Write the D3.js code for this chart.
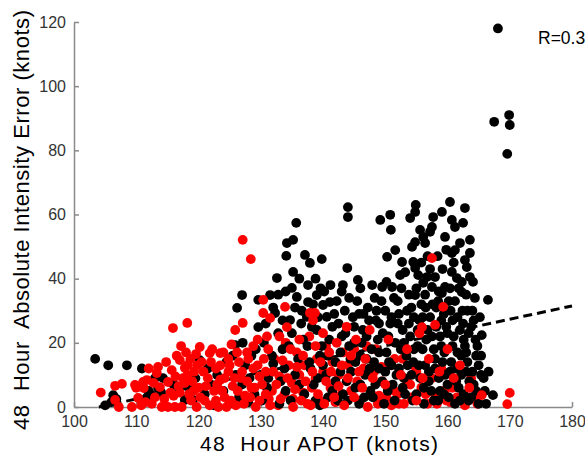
<!DOCTYPE html>
<html>
<head>
<meta charset="utf-8">
<script src="https://cdn.jsdelivr.net/npm/d3@7"></script>
<style>
  body { margin: 0; background: #fff; }
  svg { display: block; font-family: "Liberation Sans", Arial, sans-serif; }
  .axis path, .axis line { stroke: #8a8a8a; stroke-width: 1.5; }
  .axis text { fill: #333; font-size: 16px; }
</style>
</head>
<body>
<div id="chart"></div>
<script>

///////////////////////////////////////////////////////////////////////////
//////////////////////////////// Data /////////////////////////////////////
///////////////////////////////////////////////////////////////////////////

//x = 48 hour APOT (knots), y = 48 hour absolute intensity error (knots)
var blackPoints = [
	[103.4,15],[105.5,13],[108.5,13],[110.9,12],[105,0.5],[106,1.5],[106.8,2.5],[106.3,3.7],
	[111.7,3],[112.5,3.7],[113,9],[114.3,9],[112,5],[113.5,6],[114,4.5],[117.8,2.2],[119.1,2.2],
	[120.2,14.6],[116,7],[118.5,6],[119.5,9],[121,4],[121.5,12],[122,7],[123,10],[122.5,0.5],
	[124,5],[124.5,14],[125,1],[125.9,19.3],[127.1,20],[126,10],[127,7],[127.5,13],[128,1.5],
	[128.5,16],[129,4],[129.6,24.9],[129.6,33.4],[126.2,30.9],[127,34.9],[130,10],[130.5,20],
	[131,6],[131.5,34.9],[132,13.5],[132.3,29.3],[132.6,40.2],[133,1],[133.5,18],[134,5],
	[134.2,51.1],[134.1,47.1],[134.7,27.1],[135,37.1],[135.2,52.1],[135.2,42.1],[135.7,57.4],
	[135.8,34.3],[135,23],[135.5,10],[136,15],[136.5,26],[137,4],[137.1,47.4],[137.4,28.1],
	[137.6,32.7],[137.9,44.9],[137.5,19],[138,12],[138.5,7],[139,34.9],[139,24],[139.5,0.5],
	[139.8,46.1],[139.5,16],[140,31.8],[140.6,28.1],[140.5,10],[141.1,32.7],[141,21],[141.5,5],
	[142,14],[142.5,26],[143,36],[143.2,38],[143.5,30],[143.9,43.3],[144,62.3],[144,59.2],[144,2],
	[144.2,19],[144.5,11],[145,25],[145.6,39.6],[145.5,33],[146,7],[146,16],[146.5,29],[147,22],
	[147.5,12],[147.9,38],[148,3],[148.3,34],[148.5,27],[149,17],[149.2,58.3],[149.5,37.4],
	[149.5,8],[150,30],[150.3,46.8],[150.5,22],[150.8,59.9],[150.9,55.2],[151,13],[151.1,37.4],
	[151.5,2],[151.6,48.9],[152,26],[152,33],[152.4,41.1],[152.5,18],[152.7,45.2],[153,9],
	[153.5,30],[154,22],[154,58.9],[154.3,49.9],[154.5,45.2],[154.5,14],[154.8,34.9],[154.8,43.3],
	[154.8,51.4],[154.8,60.8],[154.9,63],[155,4],[155.3,41.1],[155.5,27],[155.6,55.2],[156,18],
	[156.1,38.7],[156.1,53],[156.4,51.1],[156.7,40.5],[156.5,31],[157,8],[157.2,54.6],[157.5,56.1],
	[157.5,37.4],[157.7,59.2],[157.5,22],[158,40.5],[158,12],[158.5,33],[158.5,2],[159,27],
	[159.1,60.8],[159.1,35.5],[159.6,53],[159.6,37.4],[159.5,17],[160,7],[160.4,63.9],[160.5,30],
	[160.7,58.3],[160.7,48],[160.7,42.1],[161,22],[161.2,56.1],[161.2,48.9],[161.5,40.2],[161.5,12],
	[162,51.1],[162,2],[162.3,39],[162.3,35.8],[162.5,57.4],[162.5,26],[162.8,62],[162.8,45.8],
	[163,17],[163.1,43.6],[163.5,8],[163.6,52.1],[163.6,40.5],[164.1,39],[164,30],[164.5,21],
	[165,13],[165.5,22.4],[166,5],[166.5,33.4],[167.3,3.7],
	[168.1,118],[167.5,88.9],[169.9,91],[170,87.9],[169.6,78.9],
	[140,13],[140.8,3],[141.5,25],[142,8],[142.8,17],[143.2,4],[143.6,23],[144.8,28],[145.2,14],
	[145.8,1],[146.2,20],[146.8,10],[147.2,31],[147.6,5],[148.2,14],[148.8,21],[149,26],[149.8,1],
	[150,11],[150.2,17],[150.8,26],[151.2,7],[151.6,20],[152.2,12],[152.8,24],[153.2,4],[153.4,16],
	[153.8,35],[154.2,10],[154.6,28],[155.2,19],[155.6,9],[155.8,32],[156.2,1],[156.4,13],[156.8,24],
	[157.2,28],[157.4,5],[157.8,18],[158.2,31],[158.6,9],[158.8,22],[159.2,14],[159.4,4],[159.8,25],
	[160.2,33],[160.4,11],[160.8,19],[161.2,1],[161.6,28],[161.8,6],[162.2,16],[162.6,21],[163,11],
	[163.2,30],[163.4,2],[163.8,25],[164.2,7],[164.6,16],[165,1],[165.4,10],
	[125.5,16],[126.5,3],[128.2,9],[129.2,18],[130.2,2],[131.2,9],[131.8,16],[132.8,23],[133.2,8],
	[133.8,12],[134.5,19],[134.8,2],[136.2,7],[136.8,21],[137.8,14],[138.2,25],[138.8,2],[139.2,9],
	[139.8,19],
	[140.2,36],[140.8,16],[141.2,38],[141.8,29],[142.2,33],[142.4,2],[142.8,11],[143,22],[143.8,8],
	[144.2,34],[144.4,15],[145,20],[145.2,6],[145.8,29],[146,37],[146.4,24],[146.6,3],[147,15],
	[147.4,27],[147.8,18],[148.4,7],[148.6,30],[149,12],[149.4,33],[149.6,23],[150.2,39],[150.4,5],
	[150.6,14],[151,28],[151.4,34],[151.8,10],[152.2,29],[152.6,37],[152.8,6],[153,20],[153.2,42],
	[153.6,13],[153.8,26],[154.2,31],[154.4,2],[154.6,18],[155,37],[155.2,24],[155.4,13],[155.8,45],
	[156,28],[156.2,6],[156.4,35],[156.6,21],[156.8,47],[157,11],[157.2,43],[157.6,32],[157.8,2],
	[158,15],[158.2,25],[158.4,47],[158.6,36],[158.8,5],[159,19],[159.2,43],[159.4,29],[159.6,10],
	[159.8,49],[160,23],[160.2,3],[160.4,37],[160.6,14],[160.8,27],[161,45],[161.2,33],[161.4,8],
	[161.6,17],[161.8,37],[162,24],[162.2,10],[162.4,30],[162.6,4],[162.8,19],[163,35],[163.2,14],
	[163.4,23],[163.6,48],[163.8,3],[164,11],[164.2,27],[164.4,34],[164.6,5],[164.8,19],[165.2,28],
	[165.4,16],[165.8,9],[166.2,1],[166.6,11],
	[130.8,26],[132,31],[133.5,27],[134,36],[135.5,31],[136.2,40],[136.6,30],[137.6,38],[138.4,32],
	[138.8,40],[139.2,28],[139.6,37],[132.8,35]
];

//red points plotted underneath the black ones
var redPoints = [
	[148.5,18],[149,3.5],[149.4,12.5],[151,0.5],[151.5,15],[152,4],
	[154,7],[154.5,13],[156.5,4],[158.3,1],
	[159.5,5],[160.5,1.5],[161.5,3],[162.8,0.5],[164.5,3.5],
	[148.2,11],[148.8,1],[149.5,8],[150.2,3],[150.8,13],[151.5,5],[152.2,1],[152.8,15],[153.5,8],
	[154.2,3],[155,11],[155.8,6],[156.8,1],[157.5,9],[158,4],[159,12],[159.8,2],[160.8,6],
	[161.8,12],[163,3],[163.8,9],[164.8,1],
	[131.3,2.5],[131.8,5],[132.2,15],[132.8,0.5],[133,9.5],[133.8,4],[134,20],[134.5,13],[135,7.5],
	[135.2,2.5],[135.8,17],[136.2,10],[136.8,4.5],[137,13],[137.5,1],[137.8,22],[138.2,6],[138.8,9],
	[139,15],[139.5,2],[140,11],[140.5,19],[141.2,6],[141.5,14],[142,1.5],[142.5,10],[143,4],
	[143.2,17],[144,13],[144.5,5],[145,18],[145.5,8],[146,2],[146.5,12],[147,19],[147.8,4]
];

//red points plotted on top of the black ones
var redTopPoints = [
	[104.3,4.5],[106.6,6.6],[107.7,7.2],[106.6,2.2],[107.2,0],[109.3,0],[110.3,2.8],[111.2,5.9],
	[111.7,8.4],[112.5,1],[113.8,6.2],[114.1,0],[115.1,0],[115.1,7.8],[115.7,11.5],[115.9,24.6],
	[116.2,0],[117,14.6],[117.3,0],[117.8,12.2],[118.2,26.2],[118.5,4],[119,8],[119.7,0],
	[120.2,18.7],[110,6],[112,12],[113,3],[116,3.5],[116.8,6.5],[117.5,9],[118.8,2],[119.3,11],
	[120,6],[120.5,14],[118,17],[121,2],[121.5,9],[109.8,6.9],[111.1,7.8],[113.3,10.6],[118.3,13.1],
	[121.8,16.8],[123.5,16.8],
	[122.5,5],[122.8,12],[123.2,0],[123.5,8.5],[124,17],[124.2,3],[124.8,11],[125.3,19.5],
	[125.5,6.5],[125.9,24],[126,0.5],[126.5,14],[126.8,9],[127.1,26.2],[127.1,52.1],[127.5,3.5],
	[127.8,17],[128.4,46.1],[128.5,6],[128.8,12],[129.2,0],[129.5,21],[129.8,9.5],[130.4,33.4],
	[130.4,29.3],[130.5,15],[130.8,4],[131.2,18],[131.5,27.7],[131.5,0.5],[132,11],[132.5,7],
	[133,22],[133.2,2.5],[133.5,14.5],[133.9,31.2],[134.2,24.9],[134.3,9],[134.8,18],[135.2,0],
	[135.5,5.5],[135.8,12.5],[136.2,21],[136.5,2],[136.8,16],[137.2,8],[137.9,29.3],[138.4,27],
	[138,0.5],[138.3,11],[138.8,19],[139.2,4],[139.6,14],[140,23],[140.2,1],[140.5,8],
	[141,17],[141.3,11],[141.8,3],[142.2,20],[142.5,6.5],[143,13],[143.4,0.5],[144,9],
	[144.5,16],[145,3],[145.3,21],[145.8,11],[146.3,6],[146.8,15],[147.2,0],[148,9],
	[110.8,0.5],[111.5,1.5],[112.8,7.5],[113.5,12.5],[114.5,2.5],[114.8,14],[115.5,4.5],[116.3,9.5],
	[116.5,16],[117,4.5],[117.2,19],[117.8,7.5],[118.2,10],[118.7,15],[119.2,5],[119.6,16.5],
	[119.8,13],[120.3,3],[120.8,11],[121.2,6.5],[121.8,0.5],[122,14],[122.2,18],[122.8,2],[123,7],
	[123.5,13],[123.8,5],[124.2,9],[124.5,0],[124.8,15],[125.2,2],[125,13],[125.8,9],[126.2,17],
	[126.3,5],[127,11],[127.3,1],[127.8,8],[128,15],[128.3,3],[128.8,19],[129,6],[129.5,13],
	[129.8,2],[130.2,7],[130.8,11],[131,22],
	[152.5,10],[155,2],[157,15],[160,18],[162,13],[153,1],[158.7,11],[163.5,6],[150,7],[155.5,23],
	[157.5,46.4],[159.3,31.2],[155.9,24.9],[158,25.6],[138.7,29.3],[143.8,25],[150.5,21],
	[147.5,24],[153.5,18],[161,9],[156,9],[165.5,3.7],[170,4.4],[169.6,0.9]
];

//Dashed least squares fit line, start and end
var fitLine = [[104,0],[180,31.5]];
var rLabel = "R=0.3";

var xTicks = [100,110,120,130,140,150,160,170,180];
var yTicks = [0,20,40,60,80,100,120];

///////////////////////////////////////////////////////////////////////////
///////////////////////////// Set up the svg //////////////////////////////
///////////////////////////////////////////////////////////////////////////

var width = 585,
	height = 455;

var svg = d3.select("#chart")
	.append("svg")
	.attr("width", width)
	.attr("height", height);

var x = d3.scaleLinear().domain([100,180]).range([74,572]);
var y = d3.scaleLinear().domain([0,120]).range([407,22]);

var r = 4.9;

///////////////////////////////////////////////////////////////////////////
///////////////////////////////// Axes ////////////////////////////////////
///////////////////////////////////////////////////////////////////////////

svg.append("g")
	.attr("class", "axis")
	.attr("transform", "translate(0," + y(0) + ")")
	.call(d3.axisBottom(x).tickValues(xTicks).tickSize(-5).tickSizeOuter(0).tickPadding(9));

svg.append("g")
	.attr("class", "axis")
	.attr("transform", "translate(" + x(100) + ",0)")
	.call(d3.axisLeft(y).tickValues(yTicks).tickSize(-5).tickSizeOuter(0).tickPadding(8));

///////////////////////////////////////////////////////////////////////////
///////////////////////////// Line and points /////////////////////////////
///////////////////////////////////////////////////////////////////////////

//Fit line sits behind the dots
svg.append("line")
	.attr("x1", x(fitLine[0][0]))
	.attr("y1", y(fitLine[0][1]))
	.attr("x2", x(fitLine[1][0]))
	.attr("y2", y(fitLine[1][1]))
	.style("stroke", "#000")
	.style("stroke-width", 3)
	.style("stroke-dasharray", "9,5");

function drawDots(data, cls, color) {
	svg.append("g").selectAll("." + cls)
		.data(data)
		.enter().append("circle")
		.attr("class", cls)
		.attr("cx", function(d) { return x(d[0]); })
		.attr("cy", function(d) { return y(d[1]); })
		.attr("r", r)
		.style("fill", color);
}//drawDots

drawDots(redPoints, "red", "#ff0000");
drawDots(blackPoints, "black", "#000");
drawDots(redTopPoints, "redTop", "#ff0000");

///////////////////////////////////////////////////////////////////////////
//////////////////////////////// Labels ///////////////////////////////////
///////////////////////////////////////////////////////////////////////////

svg.append("text")
	.attr("x", 538)
	.attr("y", 44)
	.style("font-size", "17.5px")
	.text(rLabel);

svg.append("text")
	.attr("x", 200)
	.attr("y", 451)
	.attr("textLength", 238)
	.attr("lengthAdjust", "spacing")
	.style("font-size", "21px")
	.style("white-space", "pre")
	.text("48  Hour APOT (knots)");

svg.append("text")
	.attr("transform", "translate(29,430) rotate(-90)")
	.attr("textLength", 420)
	.attr("lengthAdjust", "spacing")
	.style("font-size", "22px")
	.style("white-space", "pre")
	.text("48  Hour  Absolute Intensity Error (knots)");

</script>
</body>
</html>
